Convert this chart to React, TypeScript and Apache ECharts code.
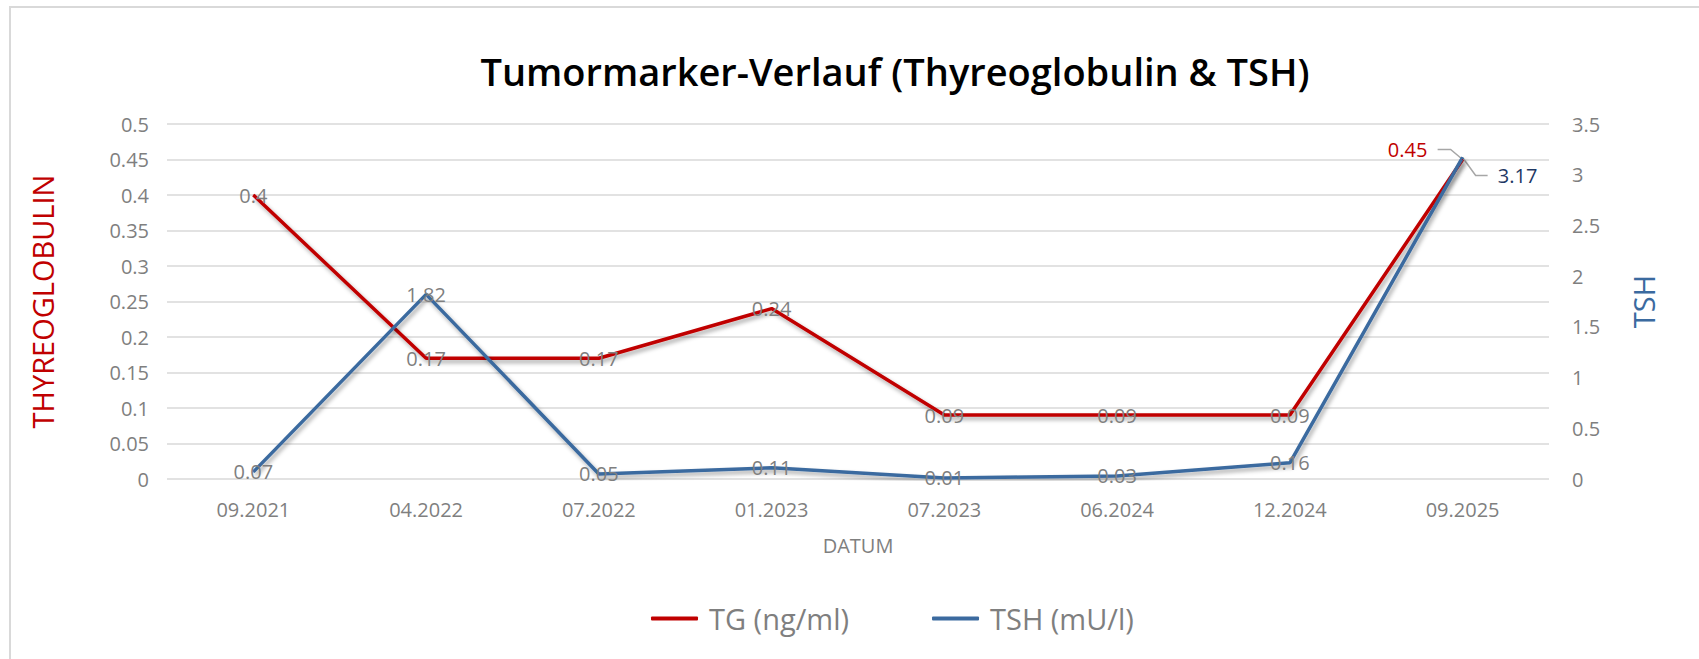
import React, { useEffect, useRef } from "react";
import * as echarts from "echarts";

const categories = ["09.2021", "04.2022", "07.2022", "01.2023", "07.2023", "06.2024", "12.2024", "09.2025"];
const tgValues = [0.4, 0.17, 0.17, 0.24, 0.09, 0.09, 0.09, 0.45];
const tshValues = [0.07, 1.82, 0.05, 0.11, 0.01, 0.03, 0.16, 3.17];
const seriesNames = ["TG (ng/ml)", "TSH (mU/l)"];
const titleText = "Tumormarker-Verlauf (Thyreoglobulin & TSH)";

const RED = "#c00000";
const BLUE = "#3b6a9f";
const DARKBLUE = "#1f3864";
const GRAY = "#7f7f7f";
const GRID = "#d9d9d9";
const FONT = "'Open Sans', 'Noto Sans', sans-serif";

export default function App() {
  const ref = useRef<HTMLDivElement>(null);
  useEffect(() => {
    document.body.style.margin = "0";
    const chart = echarts.init(ref.current!, null, { renderer: "svg" });
    const last = categories.length - 1;
    const lineShadow = {
      shadowColor: "rgba(0,0,0,0.35)",
      shadowBlur: 4,
      shadowOffsetX: 2,
      shadowOffsetY: 3,
    };
    const labelBase = {
      show: true,
      position: "inside",
      color: GRAY,
      fontSize: 20,
      fontFamily: FONT,
      textBorderWidth: 0,
    };
    const tgData = tgValues.map((v, i) =>
      i === last ? { value: v, label: { color: RED, offset: [-55, -10] } } : v
    );
    const tshData = tshValues.map((v, i) =>
      i === last ? { value: v, label: { color: DARKBLUE, offset: [55, 18] } } : v
    );
    chart.setOption({
      animation: false,
      backgroundColor: "#fff",
      textStyle: { fontFamily: FONT },
      grid: { left: 167, right: 150, top: 124, bottom: 180 },
      legend: {
        data: seriesNames,
        left: 646,
        top: 599,
        icon: "roundRect",
        itemWidth: 47,
        itemHeight: 4,
        itemGap: 83,
        textStyle: { color: GRAY, fontSize: 29, fontFamily: FONT, padding: [0, 0, 0, 6] },
        selectedMode: false,
      },
      xAxis: {
        type: "category",
        data: categories,
        boundaryGap: true,
        axisLine: { show: false },
        axisTick: { show: false },
        axisLabel: { color: GRAY, fontSize: 20, margin: 20, fontFamily: FONT },
        name: "DATUM",
        nameLocation: "middle",
        nameGap: 56,
        nameTextStyle: { color: GRAY, fontSize: 20, fontFamily: FONT },
      },
      yAxis: [
        {
          type: "value",
          min: 0,
          max: 0.5,
          interval: 0.05,
          position: "left",
          axisLine: { show: false },
          axisTick: { show: false },
          axisLabel: { color: GRAY, fontSize: 20, margin: 18, fontFamily: FONT },
          splitLine: { show: true, lineStyle: { color: GRID, width: 1.5 } },
          name: "THYREOGLOBULIN",
          nameLocation: "middle",
          nameRotate: 90,
          nameGap: 110,
          nameTextStyle: { color: RED, fontSize: 29, fontFamily: FONT },
        },
        {
          type: "value",
          min: 0,
          max: 3.5,
          interval: 0.5,
          position: "right",
          axisLine: { show: false },
          axisTick: { show: false },
          axisLabel: { color: GRAY, fontSize: 20, margin: 23, fontFamily: FONT },
          splitLine: { show: false },
          name: "TSH",
          nameLocation: "middle",
          nameRotate: 90,
          nameGap: 80,
          nameTextStyle: { color: BLUE, fontSize: 29, fontFamily: FONT },
        },
      ],
      series: [
        {
          name: seriesNames[0],
          type: "line",
          yAxisIndex: 0,
          data: tgData,
          symbol: "circle",
          symbolSize: 1,
          showSymbol: true,
          itemStyle: { color: RED },
          lineStyle: { color: RED, width: 3.5, ...lineShadow },
          label: labelBase,
          silent: true,
        },
        {
          name: seriesNames[1],
          type: "line",
          yAxisIndex: 1,
          data: tshData,
          symbol: "circle",
          symbolSize: 1,
          showSymbol: true,
          itemStyle: { color: BLUE },
          lineStyle: { color: BLUE, width: 3.5, ...lineShadow },
          label: labelBase,
          silent: true,
        },
      ],
    });
    const pTG = chart.convertToPixel({ xAxisIndex: 0, yAxisIndex: 0 }, [last, tgValues[last]]) as number[];
    const pTSH = chart.convertToPixel({ xAxisIndex: 0, yAxisIndex: 1 }, [last, tshValues[last]]) as number[];
    chart.setOption({
      graphic: [
        {
          type: "rect",
          shape: { x: 10, y: 7, width: 1720, height: 700 },
          style: { fill: "none", stroke: GRID, lineWidth: 2 },
          silent: true,
        },
        {
          type: "text",
          x: 895,
          y: 71,
          style: {
            text: titleText,
            textAlign: "center",
            textVerticalAlign: "middle",
            fill: "#000",
            fontSize: 38,
            fontWeight: 600,
            fontFamily: FONT,
          },
          silent: true,
        },
        {
          type: "polyline",
          shape: {
            points: [
              [pTG[0] - 25, pTG[1] - 10],
              [pTG[0] - 12, pTG[1] - 10],
              [pTG[0], pTG[1]],
            ],
          },
          style: { stroke: "#a6a6a6", lineWidth: 1.5, fill: "none" },
          silent: true,
        },
        {
          type: "polyline",
          shape: {
            points: [
              [pTSH[0], pTSH[1]],
              [pTSH[0] + 13, pTSH[1] + 18],
              [pTSH[0] + 25, pTSH[1] + 18],
            ],
          },
          style: { stroke: "#a6a6a6", lineWidth: 1.5, fill: "none" },
          silent: true,
        },
      ],
    });
    return () => chart.dispose();
  }, []);
  return <div ref={ref} style={{ width: 1699, height: 659 }} />;
}
